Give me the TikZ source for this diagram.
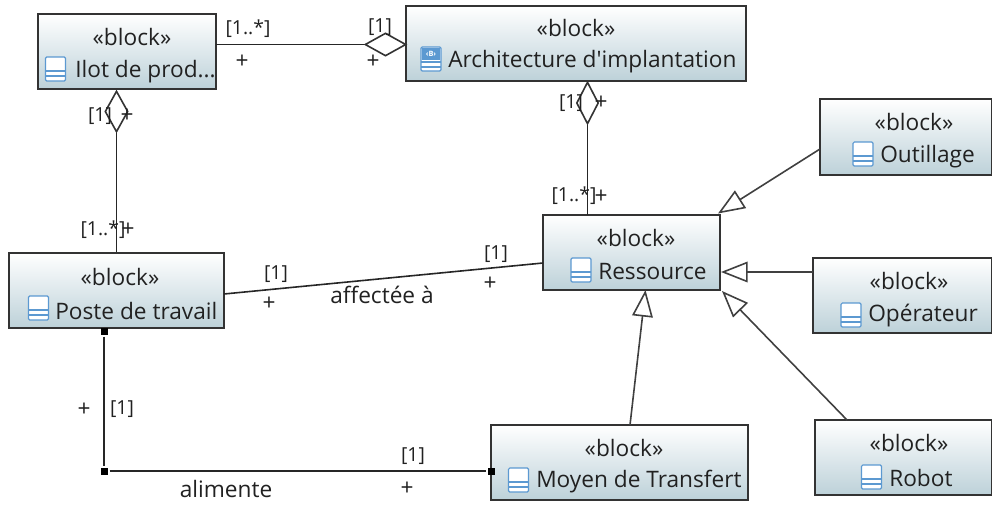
\documentclass[tikz,border=0pt]{standalone}
\usepackage{fontspec}
\setmainfont{Open Sans}
\newfontfamily\plainfont{Open Sans}
\usepackage{tikz}
\usetikzlibrary{arrows.meta,shapes.geometric}
\definecolor{boxline}{rgb}{0.2,0.2,0.2}
\definecolor{boxbot}{rgb}{0.74,0.82,0.85}
\definecolor{iconblue}{rgb}{0.36,0.6,0.82}
\definecolor{txt}{rgb}{0.13,0.13,0.13}
\tikzset{
  blockbox/.style={draw=boxline,line width=1.4pt,rectangle,top color=white,bottom color=boxbot,inner sep=0pt},
  txtnode/.style={inner sep=0pt,text=txt,font=\fontsize{17}{18}\selectfont},
  smalltxt/.style={inner sep=0pt,text=txt,font=\fontsize{14.5}{16}\selectfont},
  plustxt/.style={inner sep=0pt,text=txt,font=\fontsize{17}{18}\selectfont},
  lien/.style={draw=black!85,line width=1.2pt},
  aggreg/.style={diamond,draw=boxline,line width=1.2pt,inner sep=0pt},
  herite/.style={draw=black!75,line width=1.2pt,-{Triangle[open,length=20pt,width=15.5pt,fill=white]}},
  poignee/.style={rectangle,fill=black,minimum size=5.25pt,inner sep=0pt,outer sep=1.5pt},
  iconbar/.pic={
    \draw [iconblue,line width=0.9pt,fill=white,rounded corners=1pt] (-10,12) rectangle (10,-12);
    \draw [iconblue,line width=0.9pt] (-10,-2) -- (10,-2) (-10,-7) -- (10,-7);
  },
  iconarchi/.pic={
    \draw [iconblue,line width=0.9pt,fill=white,rounded corners=1pt] (-10,12) rectangle (10,-12);
    \fill [iconblue] (-9,11) rectangle (9,-1);
    \node (iconb) [inner sep=0pt,text=white,font=\fontsize{5.5}{6}\bfseries\selectfont] at (0,5) {‹B›};
    \draw [iconblue,line width=0.9pt] (-10,-3) -- (10,-3) (-10,-8) -- (10,-8);
  }
}
\begin{document}
\begin{tikzpicture}[x=0.75pt,y=0.75pt,yscale=-1,xscale=1]
\useasboundingbox (0,0) rectangle (992,504);

% Blocks
\node (ilot) [blockbox,minimum width=133.5pt,minimum height=56.25pt] at (127,51.5) {};
\node (archi) [blockbox,minimum width=255pt,minimum height=56.25pt] at (576,43.5) {};
\node (ressource) [blockbox,minimum width=132.75pt,minimum height=56.25pt] at (631.5,252.5) {};
\node (outillage) [blockbox,minimum width=129pt,minimum height=57pt] at (906,137) {};
\node (operateur) [blockbox,minimum width=134.25pt,minimum height=56.25pt] at (902.5,295.5) {};
\node (robot) [blockbox,minimum width=132.75pt,minimum height=56.25pt] at (903.5,457.5) {};
\node (poste) [blockbox,minimum width=161.25pt,minimum height=56.25pt] at (116.5,290.5) {};
\node (moyen) [blockbox,minimum width=192.75pt,minimum height=56.25pt] at (619.5,462.5) {};

% Icons
\pic at (55.5,69) {iconbar};
\pic at (431,59) {iconarchi};
\pic at (581,270) {iconbar};
\pic at (863,154) {iconbar};
\pic at (851,315) {iconbar};
\pic at (871.5,477) {iconbar};
\pic at (38.5,308) {iconbar};
\pic at (518.5,480) {iconbar};

% Text Node
\node (ilotst) [txtnode] at (132,37) {«block»};
\node (ilotnm) [txtnode,anchor=west] at (75,72) {Ilot de prod...};
\node (archist) [txtnode] at (576,28) {«block»};
\node (archinm) [txtnode,anchor=west] at (448,62) {\plainfont Architecture d'implantation};
\node (resst) [txtnode] at (636,238) {«block»};
\node (resnm) [txtnode,anchor=west] at (598,272) {Ressource};
\node (outst) [txtnode] at (914,122) {«block»};
\node (outnm) [txtnode,anchor=west] at (880,157) {Outillage};
\node (opest) [txtnode] at (909,281) {«block»};
\node (openm) [txtnode,anchor=west] at (868,316) {Opérateur};
\node (robst) [txtnode] at (909,443) {«block»};
\node (robnm) [txtnode,anchor=west] at (889,478) {Robot};
\node (posst) [txtnode] at (120,277) {«block»};
\node (posnm) [txtnode,anchor=west] at (55,311) {Poste de travail};
\node (moyst) [txtnode] at (624,448) {«block»};
\node (moynm) [txtnode,anchor=west] at (536,482) {Moyen de Transfert};

% Aggregation diamonds
\node (dgarchi) [aggreg,minimum width=30.75pt,minimum height=17.25pt] at (385.5,44.5) {};
\node (dgilot) [aggreg,minimum width=17.25pt,minimum height=30.75pt] at (116.5,111.5) {};
\node (dgres) [aggreg,minimum width=16.5pt,minimum height=31.5pt] at (587.5,103) {};

% Points on the borders
\coordinate (ptilot) at (216,44.5);
\coordinate (ptres) at (587.5,215);
\coordinate (ptposte) at (224,294);
\coordinate (ptresw) at (543,263);
\coordinate (ptoutw) at (820,149);
\coordinate (ptoutres) at (718,213.5);
\coordinate (ptopew) at (813,272);
\coordinate (ptoperes) at (721,272);
\coordinate (ptrobn) at (847,420);
\coordinate (ptrobres) at (722,291);
\coordinate (ptmoyn) at (630,425);
\coordinate (ptmoyres) at (645.5,290);

% Handles
\node (hdposte) [poignee] at (104,331) {};
\node (hdcoin) [poignee] at (104,471) {};
\node (hdmoyen) [poignee] at (491.5,471) {};

%Straight Lines
\draw [lien] (ptilot) -- (dgarchi.west);
\draw [lien] (dgilot.south) -- (poste.north);
\draw [lien] (dgres.south) -- (ptres);
\draw [lien] (ptposte) -- (ptresw);
\draw [lien] (hdposte) -- (hdcoin);
\draw [lien] (hdcoin) -- (hdmoyen);
\draw [herite] (ptoutw) -- (ptoutres);
\draw [herite] (ptopew) -- (ptoperes);
\draw [herite] (ptrobn) -- (ptrobres);
\draw [herite] (ptmoyn) -- (ptmoyres);

% Text Node
\node (ta) [smalltxt] at (248,29) {[1..*]};
\node (tb) [plustxt] at (242,62) {+};
\node (tc) [smalltxt] at (380,27) {[1]};
\node (td) [plustxt] at (373,62) {+};
\node (te) [smalltxt] at (100,116) {[1]};
\node (tf) [plustxt] at (127,116) {+};
\node (tg) [smalltxt] at (103,230) {[1..*]};
\node (th) [plustxt] at (128,230) {+};
\node (ti) [smalltxt] at (571,103) {[1]};
\node (tj) [plustxt] at (601,103) {+};
\node (tk) [smalltxt] at (574,196) {[1..*]};
\node (tl) [plustxt] at (601,197) {+};
\node (tm) [smalltxt] at (276,274) {[1]};
\node (tn) [plustxt] at (269,304) {+};
\node (to) [txtnode] at (382,295) {affectée à};
\node (tp) [smalltxt] at (496,254) {[1]};
\node (tq) [plustxt] at (490,284) {+};
\node (tr) [plustxt] at (84,410) {+};
\node (ts) [smalltxt] at (122,409) {[1]};
\node (tt) [txtnode] at (226,489) {alimente};
\node (tu) [smalltxt] at (413,456) {[1]};
\node (tv) [plustxt] at (407,489) {+};

\end{tikzpicture}
\end{document}
